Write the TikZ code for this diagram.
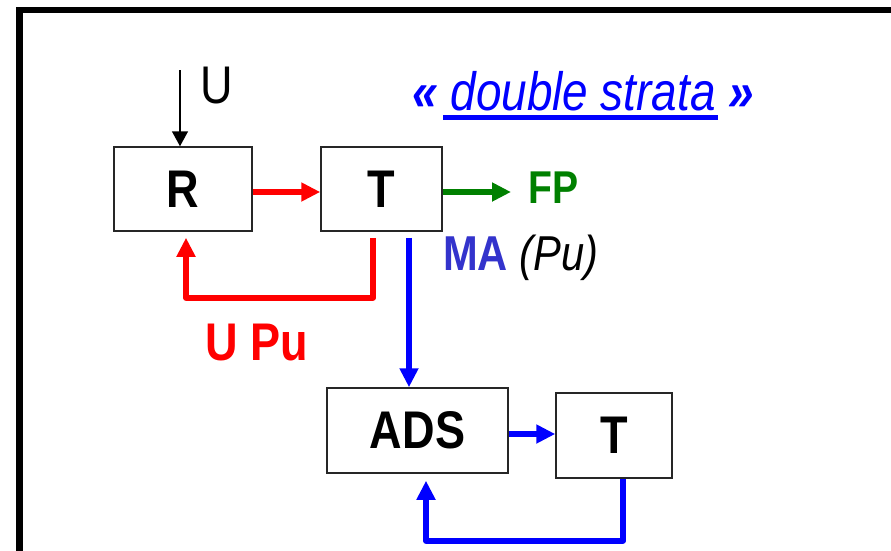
\documentclass[tikz,border=0pt]{standalone}
\usepackage{fontspec}
\setmainfont{Liberation Sans}[FakeStretch=0.85]
\usetikzlibrary{arrows.meta,calc}
\definecolor{fred}{RGB}{255,0,0}
\definecolor{fgreen}{RGB}{0,128,0}
\definecolor{fblue}{RGB}{0,0,255}
\definecolor{mablue}{RGB}{51,51,204}
\tikzset{
  box/.style={draw=black!85, line width=1.5pt, inner sep=0pt, font=\bfseries\fontsize{53}{60}\selectfont},
  flow/.style={line width=5.5pt, line join=round, -{Triangle[length=19pt,width=18pt]}},
  lbl/.style={inner sep=0pt, anchor=base west},
}
\begin{document}
\begin{tikzpicture}[x=1pt,y=-1pt]
\useasboundingbox[fill=white] (0,0) rectangle (891,550);
% frame
\draw[line width=6.5pt] (19.5,560) -- (19.5,10) -- (900,10);
% boxes
\node[box, minimum width=138pt, minimum height=84pt] (R) at (183,189) {R};
\node[box, minimum width=121pt, minimum height=84pt] (T) at (381.5,189) {T};
\node[box, minimum width=181pt, minimum height=85pt] (ADS) at (417.5,430.5) {ADS};
\node[box, minimum width=116pt, minimum height=85pt] (T2) at (614,435.5) {T};
% labels
\node[lbl, font=\fontsize{53}{60}\selectfont] (U) at (200,103) {U};
\node[lbl, font=\bfseries\fontsize{46}{52}\selectfont, text=fgreen] (FP) at (528,203) {FP};
\node[lbl, font=\fontsize{49}{56}\selectfont] (MA) at (443,270) {{\color{mablue}\bfseries MA} {\itshape (Pu)}};
\node[lbl, font=\bfseries\fontsize{53}{60}\selectfont, text=fred] (UPu) at (205,360) {U Pu};
\node[lbl, font=\itshape\fontsize{54}{60}\selectfont, text=fblue] (DS) at (412,110) {{\bfseries «} double strata {\bfseries »}};
\fill[fblue] (443,115) rectangle (718,120);
% top U arrow
\coordinate (Uin) at (180,70);
\draw[line width=1.5pt, -{Triangle[length=15pt,width=16pt]}] (Uin) -- (R.north -| Uin);
% R -> T
\draw[flow, fred] ([yshift=-3pt]R.east) -- ([yshift=-3pt]T.west);
% T -> FP
\coordinate (FPin) at (511,192);
\draw[flow, fgreen] ([yshift=-3pt]T.east) -- (FPin);
% red feedback
\draw[flow, fred] ($(T.south)+(-8.5,6)$) -- ++(0,60) -| ($(R.south)+(3,6)$);
% blue down
\draw[flow, fblue] ($(T.south)+(27.5,6)$) -- ($(ADS.north)+(-8.5,0)$);
% ADS -> T2
\draw[flow, fblue] ([yshift=-3.5pt]ADS.east) -- ([yshift=1.5pt]T2.west);
% blue feedback
\draw[flow, fblue] ($(T2.south)+(9,0)$) -- ++(0,62) -| ($(ADS.south)+(8.5,7)$);
\end{tikzpicture}
\end{document}
